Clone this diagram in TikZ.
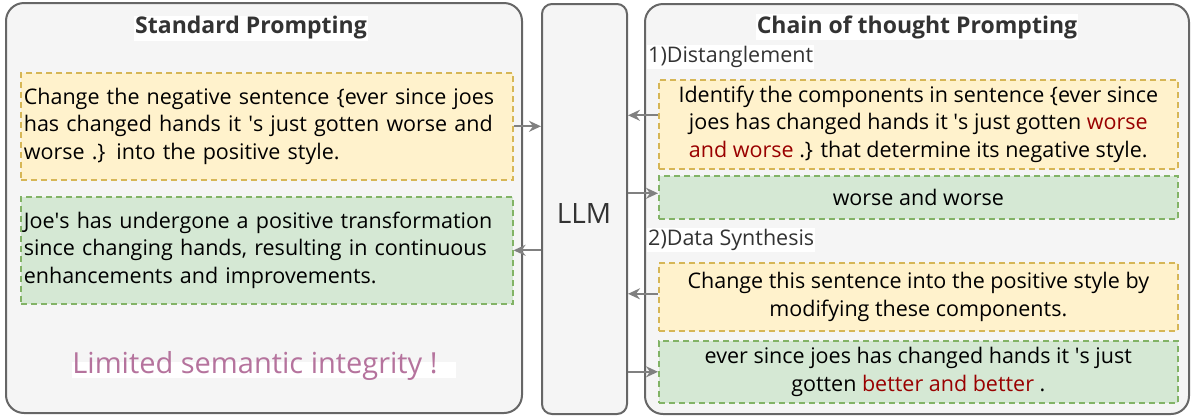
\documentclass[tikz,border=0pt]{standalone}
\usepackage{fontspec}
\setmainfont{Open Sans}
\usetikzlibrary{arrows.meta}
\definecolor{panelfill}{HTML}{F5F5F5}
\definecolor{paneldraw}{HTML}{666666}
\definecolor{notefill}{HTML}{FFF2CC}
\definecolor{notedraw}{HTML}{D6B656}
\definecolor{replyfill}{HTML}{D5E8D4}
\definecolor{replydraw}{HTML}{82B366}
\definecolor{flowgray}{HTML}{808080}
\definecolor{stylered}{HTML}{990000}
\definecolor{warnpink}{HTML}{B5739D}
\definecolor{headgray}{HTML}{333333}
\newcommand{\apos}{\textquotesingle}
\begin{document}
\begin{tikzpicture}[%
    x=1pt, y=-1pt, font=\fontsize{21.5}{27.5}\selectfont,
    panel/.style={draw=paneldraw, fill=panelfill, line width=2pt,
      rounded corners=18pt, anchor=north west, inner sep=0pt},
    boxed/.style={line width=1.6pt, dash pattern=on 6pt off 4pt,
      anchor=north west, inner ysep=2pt},
    prompt/.style={boxed, draw=notedraw, fill=notefill},
    reply/.style={boxed, draw=replydraw, fill=replyfill},
    leftnote/.style={minimum width=492pt, minimum height=107pt,
      text width=486pt, inner xsep=3pt, align=left},
    rightnote/.style={minimum width=519pt, align=center},
    heading/.style={font=\fontsize{23}{26}\selectfont\bfseries, text=headgray,
      fill=white, inner sep=1pt},
    step label/.style={font=\fontsize{21.5}{24}\selectfont, text=headgray,
      fill=white, inner sep=1pt, anchor=west},
    flow/.style={-{Stealth[length=12pt, width=11pt, inset=4pt]},
      draw=flowgray, line width=2pt}]
  \useasboundingbox (0,0) rectangle (1192,416);

  \node[panel, minimum width=516pt, minimum height=410pt] (stdpanel) at (5,2) {};
  \node[panel, minimum width=85pt, minimum height=410pt, rounded corners=10pt]
    (llmpanel) at (541,3) {};
  \node[panel, minimum width=544pt, minimum height=410pt] (cotpanel) at (644,3) {};
  \node[font=\fontsize{28}{32}\selectfont, text=headgray] (llm) at (584,213) {LLM};

  \node[heading] (stdtitle) at (251,28) {Standard Prompting};
  \node[heading] (cottitle) at (917,27) {Chain of thought Prompting};

  \node[prompt, leftnote] (stdask) at (20,72)
    {Change the negative sentence \{ever since joes\\
     has changed hands it \apos s just gotten worse and\\
     worse .\} into the positive style.};
  \node[reply, leftnote] (stdout) at (20,196)
    {Joe\apos s has undergone a positive transformation\\
     since changing hands, resulting in continuous\\
     enhancements and improvements.};
  \fill[white] (72,362) rectangle (456,378);
  \node[font=\fontsize{29}{32}\selectfont, text=warnpink] (limit) at (255,366)
    {Limited semantic integrity !};

  \node[step label] (step1) at (647,57) {1)Distanglement};
  \node[prompt, rightnote, minimum height=89pt] (findask) at (658,79)
    {Identify the components in sentence \{ever since\\
     joes has changed hands it \apos s just gotten \textcolor{stylered}{worse}\\
     \textcolor{stylered}{and worse} .\} that determine its negative style.};
  \node[reply, rightnote, minimum height=43pt] (findout) at (658,175)
    {worse and worse};
  \node[step label] (step2) at (647,240) {2)Data Synthesis};
  \node[prompt, rightnote, minimum height=68pt] (synask) at (658,262)
    {Change this sentence into the positive style by\\
     modifying these components.};
  \node[reply, rightnote, minimum height=62pt] (synout) at (658,340)
    {ever since joes has changed hands it \apos s just\\
     gotten \textcolor{stylered}{better and better} .};

  \draw[flow] (stdask.east) -- (stdask.east -| llmpanel.west);
  \draw[flow] (stdout.east -| llmpanel.west) -- (stdout.east);
  \draw[flow] ([yshift=9pt]findask.west) -- ([yshift=9pt]findask.west -| llmpanel.east);
  \draw[flow] ([yshift=4pt]findout.west -| llmpanel.east) -- ([yshift=4pt]findout.west);
  \draw[flow] ([yshift=3pt]synask.west) -- ([yshift=3pt]synask.west -| llmpanel.east);
  \draw[flow] (synout.west -| llmpanel.east) -- (synout.west);
\end{tikzpicture}
\end{document}
